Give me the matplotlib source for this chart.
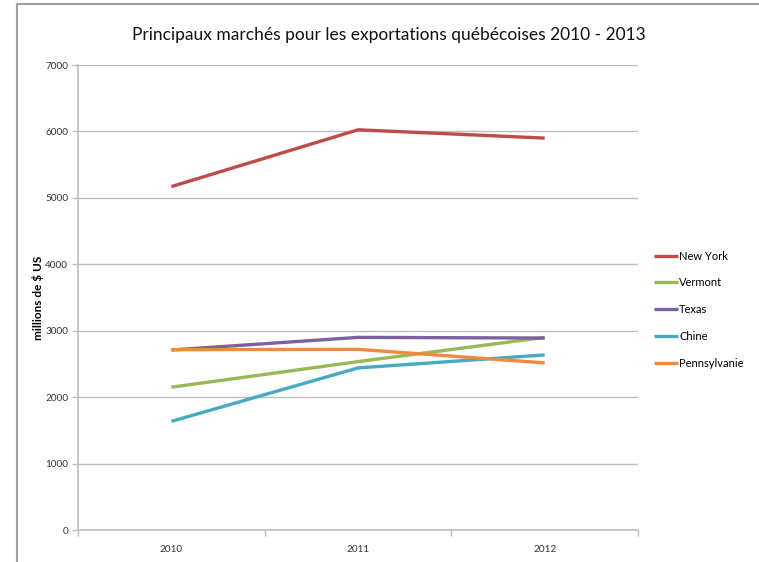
"""Principaux marchés pour les exportations québécoises"""

import matplotlib.pyplot as plt
from matplotlib.lines import Line2D

annees = ['2010', '2011', '2012']
new_york = [5170, 6025, 5900]
vermont = [2150, 2535, 2900]
texas = [2710, 2900, 2890]
chine = [1636, 2440, 2636]
pennsylvanie = [2715, 2720, 2516]

series = ['New York', 'Vermont', 'Texas', 'Chine', 'Pennsylvanie']
valeurs = [new_york, vermont, texas, chine, pennsylvanie]
couleurs = ['#be4b48', '#98b954', '#7d60a0', '#46aac5', '#f08a3e']

plt.rcParams['font.family'] = ['Lato', 'DejaVu Sans']

fig = plt.figure(figsize=(7.59, 5.62), dpi=100)
ax = fig.add_axes([0.1028, 0.0569, 0.7378, 0.8274])

x = list(range(len(annees)))
for nom, val, c in zip(series, valeurs, couleurs):
    ax.plot(x, val, color=c, linewidth=2.4, label=nom, solid_capstyle='butt')

gris = '#bdbdbd'
ax.set_xlim(-0.5, 2.5)
ax.set_ylim(0, 7000)
ax.set_yticks(range(0, 7001, 1000))
ax.set_xticks([-0.5, 0.5, 1.5, 2.5])
ax.set_xticklabels([])
ax.set_xticks(x, minor=True)
ax.set_xticklabels(annees, minor=True)
ax.tick_params(axis='x', which='minor', length=0, pad=11, labelsize=7.2, colors='#333333')
ax.tick_params(axis='x', which='major', length=4, color=gris, width=1)
ax.tick_params(axis='y', length=4, color=gris, width=1, labelsize=7.2, labelcolor='#333333', pad=3)
ax.grid(axis='y', color=gris, linewidth=1)
ax.set_axisbelow(True)
for s in ['top', 'right']:
    ax.spines[s].set_visible(False)
for s in ['left', 'bottom']:
    ax.spines[s].set_color(gris)
    ax.spines[s].set_linewidth(1.2)

ax.set_ylabel('millions de $ US', fontsize=8.5, fontweight='bold', labelpad=1)
fig.text(0.512, 0.937, 'Principaux marchés pour les exportations québécoises 2010 - 2013',
         ha='center', va='center', fontsize=12.5, color='#111111')

ax.legend(loc='center left', bbox_to_anchor=(1.01, 0.474), frameon=False,
          fontsize=8, handlelength=2.2, handletextpad=0.1, labelspacing=1.42)

# cadre gris du contour
fig.add_artist(Line2D([0.0224, 0.0224], [0, 0.993], color='#a0a0a0', linewidth=1.5))
fig.add_artist(Line2D([0.0224, 1.0], [0.993, 0.993], color='#a0a0a0', linewidth=1.5))

fig.savefig('out.png', dpi=100)
